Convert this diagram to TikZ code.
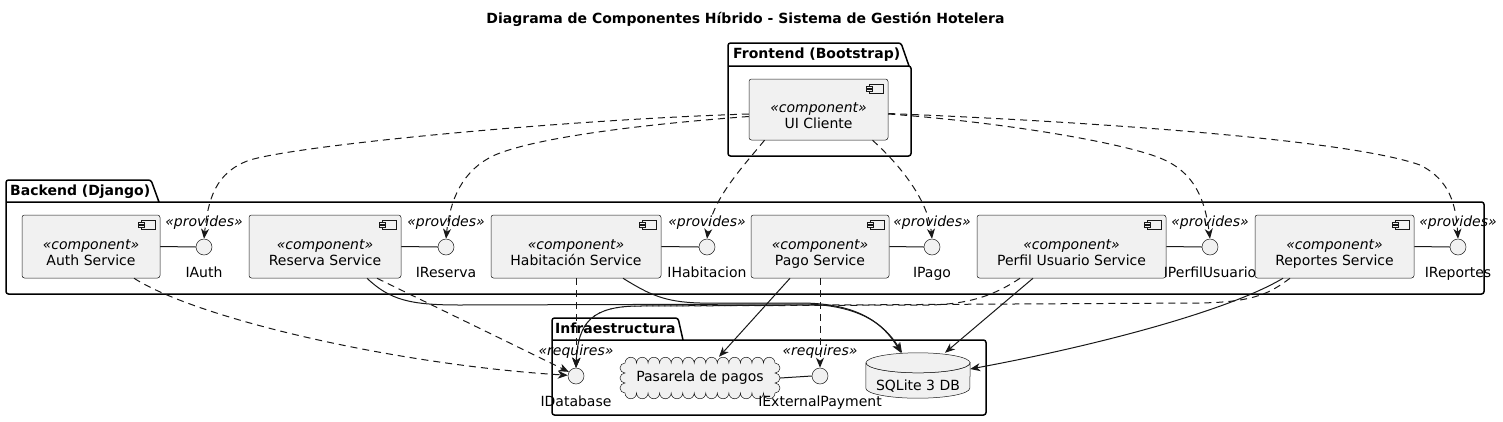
\documentclass[tikz,border=0pt]{standalone}
\usepackage{fontspec}
\setmainfont{DejaVu Sans}
\usetikzlibrary{arrows.meta}
\definecolor{boxfill}{HTML}{F1F1F1}
\definecolor{umlline}{HTML}{181818}

\begin{document}
\begin{tikzpicture}[x=1pt, y=-1pt, font=\fontsize{14}{16}\selectfont,
    boxline/.style={draw=umlline, line width=0.5pt, fill=boxfill},
    comp/.style={boxline, rounded corners=2.5pt, minimum height=63, inner sep=0pt},
    iface/.style={boxline, circle, minimum size=16, inner sep=0pt},
    stereo/.style={anchor=base, inner sep=0pt, font=\fontsize{14}{16}\selectfont\itshape},
    txt/.style={anchor=base, inner sep=0pt},
    pkg/.style={line width=1.5pt, black, rounded corners=2.5pt},
    pkgtitle/.style={anchor=base west, inner sep=0pt, font=\fontsize{14}{16}\selectfont\bfseries},
    link/.style={umlline, line width=1pt},
    uses/.style={link, -{Stealth[length=10pt, width=8pt, inset=3pt]}},
    dep/.style={uses, dash pattern=on 7pt off 5pt}]
        \useasboundingbox (0,0) rectangle (1503,421);

        % Title
        \node[txt, font=\fontsize{14}{16}\selectfont\bfseries] (title) at (745.5,23) {Diagrama de Componentes Híbrido - Sistema de Gestión Hotelera};

        % Packages
        \draw[pkg] (909,66) -- (901,43) -- (728,43) -- (728,156) -- (911,156) -- (911,66) -- (728,66);
        \node[pkgtitle] (front-t) at (733,58) {Frontend (Bootstrap)};
        \draw[pkg] (159,202) -- (151,180) -- (6,180) -- (6,294) -- (1484,294) -- (1484,202) -- (6,202);
        \node[pkgtitle] (back-t) at (10,195) {Backend (Django)};
        \draw[pkg] (683,340) -- (678,318) -- (552,318) -- (552,415) -- (986,415) -- (986,340) -- (552,340);
        \node[pkgtitle] (infra-t) at (555,333) {Infraestructura};

        % Components
        \node[comp, minimum width=139, minimum height=61] (ui) at (818.5,109.5) {};
        \node[comp, minimum width=138] (auth) at (91,246.5) {};
        \node[comp, minimum width=152] (reserva) at (325,246.5) {};
        \node[comp, minimum width=170] (habitacion) at (576,246.5) {};
        \node[comp, minimum width=138] (pago) at (820,246.5) {};
        \node[comp, minimum width=189] (perfil) at (1071.5,246.5) {};
        \node[comp, minimum width=159] (reportes) at (1334.5,246.5) {};

        \foreach \c/\t in {ui/UI Cliente, auth/Auth Service, reserva/Reserva Service, habitacion/Habitación Service, pago/Pago Service, perfil/Perfil Usuario Service, reportes/Reportes Service} {
          \node[stereo] (\c-s) at ([yshift=-2.5pt]\c.center) {«component»};
          \node[txt] (\c-n) at ([yshift=-18.5pt]\c.center) {\t};
          % component icon
          \draw[boxline] ([xshift=-19pt,yshift=-5pt]\c.north east) rectangle ++(14,9);
          \draw[boxline] ([xshift=-22pt,yshift=-7pt]\c.north east) rectangle ++(6,2);
          \draw[boxline] ([xshift=-22pt,yshift=-10.5pt]\c.north east) rectangle ++(6,2);
        }

        % Provided interfaces
        \foreach \i/\x/\t in {iauth/204/IAuth, ireserva/446/IReserva, ihabitacion/707/IHabitacion, ipago/932/IPago, iperfil/1210/IPerfilUsuario, ireportes/1458/IReportes} {
          \node[iface] (\i) at (\x,247) {};
          \node[txt] (\i-l) at (\x,277) {\t};
          \node[stereo] (\i-s) at (\x,226) {«provides»};
        }

        % Infrastructure
        \filldraw[boxline] (625,363)
          \foreach \k in {1,...,13} { arc[start angle=180, end angle=360, radius=5.77] }
          \foreach \k in {1,...,3} { arc[start angle=270, end angle=450, radius=5] }
          \foreach \k in {1,...,13} { arc[start angle=0, end angle=180, radius=5.77] }
          \foreach \k in {1,...,3} { arc[start angle=90, end angle=270, radius=5] }
          -- cycle;
        \node[minimum width=160, minimum height=42, inner sep=0pt] (pasarela) at (700,378) {Pasarela de pagos};

        \node[minimum width=104, minimum height=45, inner sep=0pt] (sqlite) at (918,375.5) {};
        \filldraw[boxline] ([yshift=-10pt]sqlite.north west) -- ([yshift=10pt]sqlite.south west)
          arc[start angle=180, end angle=0, x radius=52, y radius=10]
          -- ([yshift=-10pt]sqlite.north east)
          arc[start angle=0, end angle=180, x radius=52, y radius=10] -- cycle;
        \filldraw[boxline] ([yshift=-10pt]sqlite.north) ellipse [x radius=52, y radius=10];
        \node[txt] (sqlite-t) at (918,390) {SQLite 3 DB};

        \foreach \i/\x/\t in {idb/576/IDatabase, iextpay/820/IExternalPayment} {
          \node[iface] (\i) at (\x,376) {};
          \node[txt] (\i-l) at (\x,406) {\t};
          \node[stereo] (\i-s) at (\x,355) {«requires»};
        }

        % Component to interface
        \foreach \c/\i in {auth/iauth, reserva/ireserva, habitacion/ihabitacion, pago/ipago, perfil/iperfil, reportes/ireportes} {
          \draw[link] (\c.east) -- (\i.west);
        }
        \draw[link] (pasarela.east) -- (iextpay.west);

        % Frontend uses backend interfaces
        \draw[dep] ([yshift=-4.5pt]ui.west) .. controls (560,120) and (300,145) .. (250,160) .. controls (215,172) and (208,200) .. (iauth.north);
        \draw[dep] ([yshift=-7pt]ui.west) .. controls (620,126) and (530,140) .. (495,155) .. controls (462,170) and (450,200) .. (ireserva.north);
        \draw[dep] ([xshift=-54pt]ui.south) .. controls (740,170) and (712,200) .. (ihabitacion.north);
        \draw[dep] ([xshift=54pt]ui.south) .. controls (900,165) and (928,200) .. (ipago.north);
        \draw[dep] ([yshift=-4.5pt]ui.east) .. controls (1000,122) and (1120,142) .. (1160,158) .. controls (1195,172) and (1205,200) .. (iperfil.north);
        \draw[dep] ([yshift=-4pt]ui.east) .. controls (1100,122) and (1350,140) .. (1420,165) .. controls (1450,180) and (1456,205) .. (ireportes.north);

        % Backend to infrastructure
        \draw[dep] ([xshift=43pt]auth.south) .. controls (200,320) and (400,365) .. (idb.175);
        \draw[dep] ([xshift=52pt]reserva.south) -- (idb.150);
        \draw[uses] ([xshift=42pt]reserva.south) .. controls (390,300) and (410,305) .. (460,305) -- (800,304) .. controls (860,304) and (885,325) .. ([xshift=-16pt]sqlite.north);
        \draw[dep] (habitacion.south) -- (idb.north);
        \draw[uses] ([xshift=47pt]habitacion.south) .. controls (650,295) and (665,302) .. (700,303) -- (800,303) .. controls (858,303) and (883,323) .. ([xshift=-17pt]sqlite.north);
        \draw[uses] ([xshift=-30pt]pago.south) -- ([xshift=19pt]pasarela.north);
        \draw[dep] (pago.south) -- (iextpay.north);
        \draw[dep] ([xshift=-51.5pt]perfil.south) .. controls (995,295) and (970,304) .. (930,305) -- (640,306) .. controls (592,306) and (578,322) .. (idb.north);
        \draw[uses] ([xshift=-38.5pt]perfil.south) -- ([xshift=27pt]sqlite.north);
        \draw[dep] ([xshift=-44.5pt]reportes.south) .. controls (1270,293) and (1255,302) .. (1200,303) -- (640,306) .. controls (592,306) and (578,322) .. (idb.north);
        \draw[uses] ([xshift=-51.5pt]reportes.south) .. controls (1230,310) and (1100,345) .. ([yshift=6.5pt]sqlite.east);
      \end{tikzpicture}
\end{document}
